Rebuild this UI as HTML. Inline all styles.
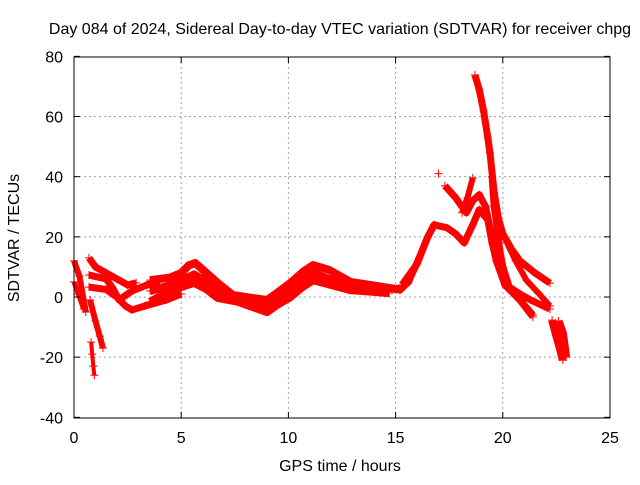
<!DOCTYPE html>
<html><head><meta charset="utf-8"><style>
body{margin:0;background:#fff;}
svg text{font-family:"Liberation Sans",sans-serif;font-size:16px;fill:#000;}
</style></head><body>
<svg id="chart" width="640" height="480" viewBox="0 0 640 480" xmlns="http://www.w3.org/2000/svg">
<rect width="640" height="480" fill="#fff"/>
<g id="grid"></g>
<g id="series"></g>
<g id="axes"></g>
<text x="340" y="34" text-anchor="middle">Day 084 of 2024, Sidereal Day-to-day VTEC variation (SDTVAR) for receiver chpg</text>
<text x="340" y="471" text-anchor="middle">GPS time / hours</text>
<text transform="translate(19,238) rotate(-90)" text-anchor="middle">SDTVAR / TECUs</text>
</svg>
<script>
const xTicks=[0,5,10,15,20,25];
const yTicks=[-40,-20,0,20,40,60,80];
// tracks: arrays of [hour, TECU]
const trackA=[[0,12],[0.25,7],[0.5,-3],[0.55,-5]];
const trackA2=[[0,5],[0.2,1],[0.45,-4]];
const trackSteep=[[0.75,-1],[1,-8],[1.2,-13],[1.35,-17]];
const trackCross=[[0.8,-15],[0.85,-19],[0.9,-23],[0.95,-26]];
const trackB=[[0.7,13],[1,10],[1.5,8],[2,6],[2.5,4],[2.9,4.7]];
const trackC=[[0.7,7.3],[1.5,6],[1.8,3],[2.1,-1],[2.7,2],[3.4,4],[4,5]];
const trackD=[[0.7,3.3],[1.5,2.5],[2,0],[2.4,-3],[2.7,-4.3],[3.3,-3],[4.3,-1],[5,1]];
const bandUpper=[[3.55,5.6],[4.5,6.5],[5,8],[5.35,10.5],[5.65,11.3],[6.1,8.5],[6.7,4.7],[7.4,0.7],[8.3,-0.3],[9,-1],[9.5,1.5],[10.1,4.7],[10.7,8.5],[11.15,10.6],[11.9,9],[12.9,5],[14,3.8],[14.7,3],[15.2,2.5]];
const bandMid=[[3.55,2],[4.5,4],[5,5.5],[5.6,7.5],[6.2,5],[6.7,2.2],[7.4,0],[8.3,-1.5],[9,-3],[9.5,-0.5],[10.1,2.3],[10.7,6],[11.15,8],[11.9,6],[12.9,3.5],[14.7,2.2]];
const bandLower=[[3.55,-1.6],[4.2,1],[5,3.3],[5.6,4.7],[6.2,2.5],[6.7,-0.3],[7.6,-1.5],[9,-5],[9.5,-2.5],[10.1,0],[10.6,3],[11.15,5.6],[12,4],[12.9,2.3],[14.7,1.3]];
const trackRise=[[14.3,3.3],[15.2,2.3],[15.6,5],[16.1,13],[16.5,20],[16.8,24],[17.4,23],[17.8,21],[18.2,18],[18.6,24],[18.9,29],[19.3,25.7],[19.5,18],[19.7,12],[20.1,4],[20.8,-1],[21.4,-6]];
const trackRise2=[[15.3,4],[16,11],[16.5,20],[16.8,24]];
const trackHump=[[17.3,37],[17.8,33],[18.3,28],[18.6,32],[18.9,34],[19.2,30],[19.4,23],[19.7,14],[20,6.7],[20.4,2],[20.8,-1],[21.4,-6.6]];
const trackSpike=[[18.6,39.6],[18.35,33],[18.1,28]];
const trackPeak=[[18.7,73.8],[18.9,69],[19.1,62],[19.3,53],[19.4,48],[19.6,34.6],[19.8,26],[20,21],[20.4,16],[20.8,12],[21.5,8],[22.2,4.6]];
const trackPeak2=[[19.5,40],[19.6,30],[19.7,25],[19.85,16],[20,10],[20.3,3.3],[20.8,1],[21.3,-1],[22.2,-4]];
const trackBranch=[[20.2,18],[20.6,12],[21.1,5.6],[21.7,1],[22.2,-3]];
const trackEnd=[[22.3,-7.7],[22.5,-13],[22.7,-18],[22.8,-21]];
const trackEnd2=[[22.6,-8],[22.8,-12],[22.9,-17],[22.95,-20]];
const singles=[[17,41]];
const X=t=>74+t*21.44, Y=v=>297-v*3.008;
const NS='http://www.w3.org/2000/svg';
const grid=document.getElementById('grid'),axes=document.getElementById('axes'),ser=document.getElementById('series');
function mk(tag,attrs,parent){const e=document.createElementNS(NS,tag);for(const k in attrs)e.setAttribute(k,attrs[k]);parent.appendChild(e);return e;}
xTicks.forEach(t=>{
 if(t>0&&t<25){const g=mk('line',{x1:X(t),x2:X(t),y1:57,y2:418,stroke:'#a0a0a0','stroke-dasharray':'2,3'},grid);
 
 }
 const tk=mk('line',{x1:X(t),x2:X(t),y1:418,y2:412,stroke:'#000'},axes);
 
 
 const tk2=mk('line',{x1:X(t),x2:X(t),y1:57,y2:63,stroke:'#000'},axes);
 
 
 const l=mk('text',{x:X(t),y:443,'text-anchor':'middle'},axes);l.textContent=t;
 
 
});
yTicks.forEach(v=>{
 if(v>-40&&v<80){const g=mk('line',{x1:74,x2:610,y1:Y(v),y2:Y(v),stroke:'#a0a0a0','stroke-dasharray':'2,3'},grid);
 
 }
 const tk=mk('line',{x1:74,x2:80,y1:Y(v),y2:Y(v),stroke:'#000'},axes);
 
 
 const tk2=mk('line',{x1:604,x2:610,y1:Y(v),y2:Y(v),stroke:'#000'},axes);
 
 
 const l=mk('text',{x:63,y:Y(v)+6,'text-anchor':'end'},axes);l.textContent=v;
 
 
});
const fr=mk('rect',{x:74,y:57,width:536,height:361,fill:'none',stroke:'#000'},axes);


const tracks=[[trackA,6],[trackA2,5],[trackSteep,6],[trackB,7],[trackC,7],[trackD,7],[bandUpper,8],[bandMid,8],[bandLower,8],[trackRise,7],[trackRise2,7],[trackHump,7],[trackSpike,6],[trackPeak,7],[trackPeak2,7],[trackBranch,6],[trackEnd,8],[trackEnd2,8]];
tracks.forEach(([pts,w])=>{
 const p=mk('polyline',{points:pts.map(d=>X(d[0])+','+Y(d[1])).join(' '),fill:'none',stroke:'#ff0000','stroke-width':w,'stroke-linejoin':'round','stroke-linecap':'butt'},ser);
 
 
 pts.forEach(d=>{
  const m=mk('path',{d:`M${X(d[0])-4},${Y(d[1])}h8M${X(d[0])},${Y(d[1])-4}v8`,stroke:'#ff0000','stroke-width':1},ser);
  
  
 });
});
trackCross.concat(singles).forEach(d=>{
 const m=mk('path',{d:`M${X(d[0])-4},${Y(d[1])}h8M${X(d[0])},${Y(d[1])-4}v8`,stroke:'#ff0000','stroke-width':1},ser);
 
 
});
const cl=mk('polyline',{points:trackCross.map(d=>X(d[0])+','+Y(d[1])).join(' '),fill:'none',stroke:'#ff0000','stroke-width':4},ser);


</script>
</body></html>
